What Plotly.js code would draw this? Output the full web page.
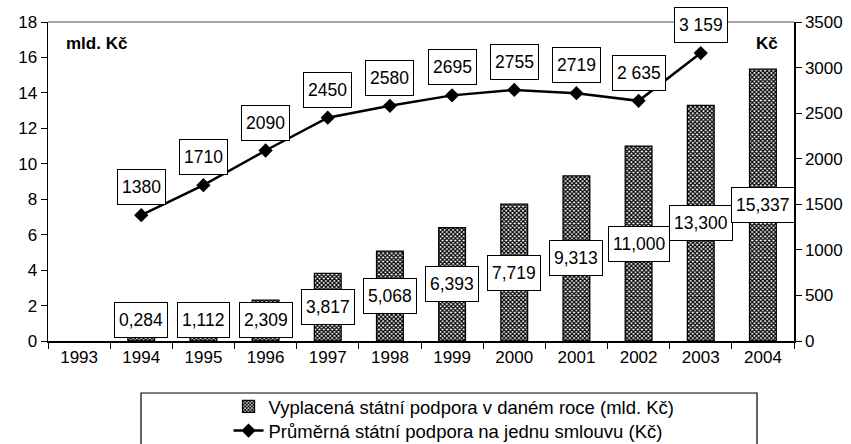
<!DOCTYPE html>
<html>
<head>
<meta charset="utf-8">
<script src="https://cdn.plot.ly/plotly-3.0.1.min.js"></script>
<style>html,body{margin:0;padding:0;background:#fff;}#chart{width:851px;height:444px;}</style>
</head>
<body>
<div id="chart"></div>
<script>
const years = ['1993','1994','1995','1996','1997','1998','1999','2000','2001','2002','2003','2004'];
const support = [null, 0.284, 1.112, 2.309, 3.817, 5.068, 6.393, 7.719, 9.313, 11.000, 13.300, 15.337];
const supportLabels = [null, '0,284', '1,112', '2,309', '3,817', '5,068', '6,393', '7,719', '9,313', '11,000', '13,300', '15,337'];
const average = [null, 1380, 1710, 2090, 2450, 2580, 2695, 2755, 2719, 2635, 3159, null];
const averageLabels = [null, '1380', '1710', '2090', '2450', '2580', '2695', '2755', '2719', '2 635', '3 159', null];

const FONT = 'Liberation Sans, Arial, sans-serif';
const LBL = 17.5;

const bars = {
  type: 'bar', x: years, y: support, yaxis: 'y', width: 0.43, legend: 'legend',
  name: 'Vyplacená státní podpora v daném roce (mld. Kč)',
  marker: {color: '#ffffff', line: {color: '#000', width: 1.3},
    pattern: {shape: 'x', fgcolor: '#000', bgcolor: '#fff', size: 3, solidity: 0.65}},
  hoverinfo: 'skip'
};
const line = {
  type: 'scatter', mode: 'lines+markers', x: years, y: average, yaxis: 'y2', legend: 'legend2',
  name: 'Průměrná státní podpora na jednu smlouvu (Kč)',
  line: {color: '#000', width: 2.5}, marker: {symbol: 'diamond', size: 11, color: '#000'},
  connectgaps: false, hoverinfo: 'skip'
};

const annotations = [];
years.forEach((yr, i) => {
  if (support[i] != null) {
    annotations.push({x: i, y: Math.max(support[i] / 2, 1.16), xref: 'x', yref: 'y',
      text: supportLabels[i], showarrow: false, font: {family: FONT, size: LBL, color: '#000'},
      bgcolor: '#fff', bordercolor: '#000', borderwidth: 1, borderpad: 4, height: 26,
      xanchor: 'center', yanchor: 'middle'});
  }
  if (average[i] != null) {
    annotations.push({x: i, y: average[i], xref: 'x', yref: 'y2', yshift: 28,
      text: averageLabels[i], showarrow: false, font: {family: FONT, size: LBL, color: '#000'},
      bgcolor: '#fff', bordercolor: '#000', borderwidth: 1, borderpad: 4, height: 26,
      xanchor: 'center', yanchor: 'middle'});
  }
});
annotations.push({xref: 'paper', yref: 'paper', x: 0.0214, y: 0.934, xanchor: 'left', yanchor: 'middle',
  text: '<b>mld. Kč</b>', showarrow: false, font: {family: FONT, size: 17, color: '#000'}});
annotations.push({xref: 'paper', yref: 'paper', x: 0.981, y: 0.934, xanchor: 'right', yanchor: 'middle',
  text: '<b>Kč</b>', showarrow: false, font: {family: FONT, size: 17, color: '#000'}});

const legendBase = {orientation: 'v', x: 0.242, xanchor: 'left', yanchor: 'top',
  font: {family: FONT, size: 18.5, color: '#000'}, bgcolor: 'rgba(0,0,0,0)', borderwidth: 0,
  itemwidth: 30};

const layout = {
  width: 851, height: 444,
  margin: {l: 48, r: 57, t: 22, b: 103, autoexpand: false},
  paper_bgcolor: '#fff', plot_bgcolor: '#fff',
  font: {family: FONT, size: 17, color: '#000'},
  showlegend: true,
  legend: Object.assign({}, legendBase, {y: -0.147}),
  legend2: Object.assign({}, legendBase, {y: -0.2226}),
  xaxis: {type: 'category', range: [-0.5, 11.5], autorange: false, showline: true, linecolor: '#000', linewidth: 1.5,
    ticks: 'outside', ticklen: 6, tickcolor: '#000', tickson: 'boundaries', tickangle: 0,
    showgrid: false, zeroline: false, tickfont: {size: 17}, fixedrange: true},
  yaxis: {range: [0, 18], autorange: false, dtick: 2, showline: true, linecolor: '#000', linewidth: 1.5,
    ticks: 'outside', ticklen: 6, tickcolor: '#000', showgrid: false, zeroline: false,
    tickfont: {size: 17}, fixedrange: true},
  yaxis2: {range: [0, 3500], autorange: false, dtick: 500, overlaying: 'y', side: 'right', showline: true,
    linecolor: '#000', linewidth: 1.5, ticks: 'outside', ticklen: 6, tickcolor: '#000',
    showgrid: false, zeroline: false, tickfont: {size: 17}, fixedrange: true},
  bargap: 0.57,
  annotations: annotations,
  shapes: [
    {type: 'line', xref: 'paper', yref: 'paper', x0: 0, x1: 1, y0: 1, y1: 1,
      line: {color: '#888', width: 1.5}, layer: 'below'},
    {type: 'rect', xref: 'paper', yref: 'paper', x0: (141 - 48) / 746, x1: (757 - 48) / 746,
      y0: (341 - 393) / 319, y1: (341 - 460) / 319, line: {color: '#000', width: 1.2}}
  ]
};

Plotly.newPlot('chart', [bars, line], layout, {displayModeBar: false, staticPlot: true});
</script>
</body>
</html>
